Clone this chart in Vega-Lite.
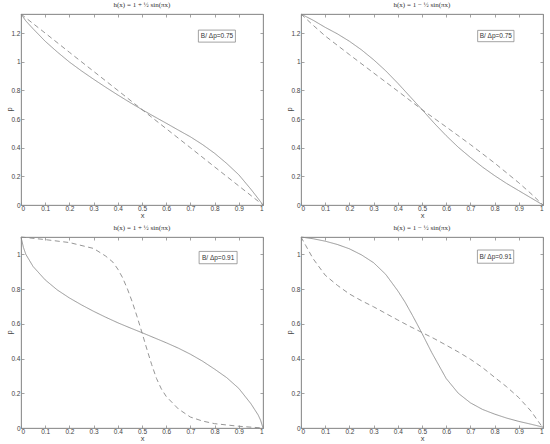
{
  "$schema": "https://vega.github.io/schema/vega-lite/v6.json",
  "padding": {"left": 4, "top": 0, "right": 4, "bottom": 0},
  "background": "white",
  "datasets": {
    "tl": [
      {"x": 0, "p": 1.333, "s": "solid"}, {"x": 0.02, "p": 1.285, "s": "solid"}, {"x": 0.05, "p": 1.23, "s": "solid"},
      {"x": 0.1, "p": 1.143, "s": "solid"}, {"x": 0.15, "p": 1.068, "s": "solid"}, {"x": 0.2, "p": 0.998, "s": "solid"},
      {"x": 0.25, "p": 0.936, "s": "solid"}, {"x": 0.3, "p": 0.878, "s": "solid"}, {"x": 0.35, "p": 0.822, "s": "solid"},
      {"x": 0.4, "p": 0.768, "s": "solid"}, {"x": 0.45, "p": 0.716, "s": "solid"}, {"x": 0.5, "p": 0.666, "s": "solid"},
      {"x": 0.55, "p": 0.618, "s": "solid"}, {"x": 0.6, "p": 0.571, "s": "solid"}, {"x": 0.65, "p": 0.523, "s": "solid"},
      {"x": 0.7, "p": 0.476, "s": "solid"}, {"x": 0.75, "p": 0.422, "s": "solid"}, {"x": 0.8, "p": 0.361, "s": "solid"},
      {"x": 0.85, "p": 0.29, "s": "solid"}, {"x": 0.9, "p": 0.211, "s": "solid"}, {"x": 0.95, "p": 0.11, "s": "solid"},
      {"x": 0.98, "p": 0.045, "s": "solid"}, {"x": 1, "p": 0, "s": "solid"},
      {"x": 0, "p": 1.333, "s": "dashed"}, {"x": 0.1, "p": 1.2, "s": "dashed"}, {"x": 0.2, "p": 1.066, "s": "dashed"},
      {"x": 0.3, "p": 0.933, "s": "dashed"}, {"x": 0.4, "p": 0.8, "s": "dashed"}, {"x": 0.5, "p": 0.666, "s": "dashed"},
      {"x": 0.6, "p": 0.533, "s": "dashed"}, {"x": 0.7, "p": 0.4, "s": "dashed"}, {"x": 0.8, "p": 0.266, "s": "dashed"},
      {"x": 0.9, "p": 0.133, "s": "dashed"}, {"x": 1, "p": 0, "s": "dashed"}
    ],
    "tr": [
      {"x": 0, "p": 1.333, "s": "solid"}, {"x": 0.05, "p": 1.29, "s": "solid"}, {"x": 0.1, "p": 1.24, "s": "solid"},
      {"x": 0.15, "p": 1.195, "s": "solid"}, {"x": 0.2, "p": 1.143, "s": "solid"}, {"x": 0.25, "p": 1.083, "s": "solid"},
      {"x": 0.3, "p": 1.014, "s": "solid"}, {"x": 0.35, "p": 0.937, "s": "solid"}, {"x": 0.4, "p": 0.85, "s": "solid"},
      {"x": 0.45, "p": 0.758, "s": "solid"}, {"x": 0.5, "p": 0.666, "s": "solid"}, {"x": 0.55, "p": 0.572, "s": "solid"},
      {"x": 0.6, "p": 0.484, "s": "solid"}, {"x": 0.65, "p": 0.403, "s": "solid"}, {"x": 0.7, "p": 0.332, "s": "solid"},
      {"x": 0.75, "p": 0.265, "s": "solid"}, {"x": 0.8, "p": 0.205, "s": "solid"}, {"x": 0.85, "p": 0.15, "s": "solid"},
      {"x": 0.9, "p": 0.1, "s": "solid"}, {"x": 0.95, "p": 0.05, "s": "solid"}, {"x": 1, "p": 0, "s": "solid"},
      {"x": 0, "p": 1.333, "s": "dashed"}, {"x": 0.05, "p": 1.255, "s": "dashed"}, {"x": 0.1, "p": 1.18, "s": "dashed"},
      {"x": 0.2, "p": 1.05, "s": "dashed"}, {"x": 0.3, "p": 0.922, "s": "dashed"}, {"x": 0.4, "p": 0.795, "s": "dashed"},
      {"x": 0.5, "p": 0.666, "s": "dashed"}, {"x": 0.6, "p": 0.545, "s": "dashed"}, {"x": 0.7, "p": 0.422, "s": "dashed"},
      {"x": 0.8, "p": 0.293, "s": "dashed"}, {"x": 0.9, "p": 0.155, "s": "dashed"}, {"x": 0.95, "p": 0.08, "s": "dashed"},
      {"x": 1, "p": 0, "s": "dashed"}
    ],
    "bl": [
      {"x": 0, "p": 1.1, "s": "solid"}, {"x": 0.01, "p": 1.04, "s": "solid"}, {"x": 0.02, "p": 1.0, "s": "solid"},
      {"x": 0.05, "p": 0.93, "s": "solid"}, {"x": 0.1, "p": 0.853, "s": "solid"}, {"x": 0.15, "p": 0.795, "s": "solid"},
      {"x": 0.2, "p": 0.749, "s": "solid"}, {"x": 0.25, "p": 0.709, "s": "solid"}, {"x": 0.3, "p": 0.672, "s": "solid"},
      {"x": 0.35, "p": 0.638, "s": "solid"}, {"x": 0.4, "p": 0.606, "s": "solid"}, {"x": 0.45, "p": 0.577, "s": "solid"},
      {"x": 0.5, "p": 0.549, "s": "solid"}, {"x": 0.55, "p": 0.52, "s": "solid"}, {"x": 0.6, "p": 0.491, "s": "solid"},
      {"x": 0.65, "p": 0.46, "s": "solid"}, {"x": 0.7, "p": 0.425, "s": "solid"}, {"x": 0.75, "p": 0.385, "s": "solid"},
      {"x": 0.8, "p": 0.339, "s": "solid"}, {"x": 0.85, "p": 0.29, "s": "solid"}, {"x": 0.9, "p": 0.228, "s": "solid"},
      {"x": 0.95, "p": 0.14, "s": "solid"}, {"x": 0.98, "p": 0.075, "s": "solid"}, {"x": 0.99, "p": 0.045, "s": "solid"},
      {"x": 1, "p": 0, "s": "solid"},
      {"x": 0, "p": 1.1, "s": "dashed"}, {"x": 0.1, "p": 1.085, "s": "dashed"}, {"x": 0.2, "p": 1.068, "s": "dashed"},
      {"x": 0.3, "p": 1.034, "s": "dashed"}, {"x": 0.35, "p": 0.99, "s": "dashed"}, {"x": 0.38, "p": 0.955, "s": "dashed"},
      {"x": 0.4, "p": 0.915, "s": "dashed"}, {"x": 0.42, "p": 0.865, "s": "dashed"}, {"x": 0.44, "p": 0.8, "s": "dashed"},
      {"x": 0.46, "p": 0.725, "s": "dashed"}, {"x": 0.48, "p": 0.64, "s": "dashed"}, {"x": 0.5, "p": 0.549, "s": "dashed"},
      {"x": 0.52, "p": 0.455, "s": "dashed"}, {"x": 0.54, "p": 0.365, "s": "dashed"}, {"x": 0.56, "p": 0.285, "s": "dashed"},
      {"x": 0.58, "p": 0.225, "s": "dashed"}, {"x": 0.6, "p": 0.182, "s": "dashed"}, {"x": 0.65, "p": 0.11, "s": "dashed"},
      {"x": 0.7, "p": 0.063, "s": "dashed"}, {"x": 0.75, "p": 0.04, "s": "dashed"}, {"x": 0.8, "p": 0.025, "s": "dashed"},
      {"x": 0.9, "p": 0.01, "s": "dashed"}, {"x": 1, "p": 0, "s": "dashed"}
    ],
    "br": [
      {"x": 0, "p": 1.1, "s": "solid"}, {"x": 0.05, "p": 1.09, "s": "solid"}, {"x": 0.1, "p": 1.076, "s": "solid"},
      {"x": 0.15, "p": 1.057, "s": "solid"}, {"x": 0.2, "p": 1.032, "s": "solid"}, {"x": 0.25, "p": 0.997, "s": "solid"},
      {"x": 0.3, "p": 0.952, "s": "solid"}, {"x": 0.35, "p": 0.885, "s": "solid"}, {"x": 0.4, "p": 0.79, "s": "solid"},
      {"x": 0.43, "p": 0.725, "s": "solid"}, {"x": 0.46, "p": 0.65, "s": "solid"}, {"x": 0.48, "p": 0.598, "s": "solid"},
      {"x": 0.5, "p": 0.545, "s": "solid"}, {"x": 0.52, "p": 0.49, "s": "solid"}, {"x": 0.54, "p": 0.435, "s": "solid"},
      {"x": 0.57, "p": 0.36, "s": "solid"}, {"x": 0.6, "p": 0.285, "s": "solid"}, {"x": 0.65, "p": 0.2, "s": "solid"},
      {"x": 0.7, "p": 0.145, "s": "solid"}, {"x": 0.75, "p": 0.107, "s": "solid"}, {"x": 0.8, "p": 0.08, "s": "solid"},
      {"x": 0.85, "p": 0.057, "s": "solid"}, {"x": 0.9, "p": 0.038, "s": "solid"}, {"x": 0.95, "p": 0.022, "s": "solid"},
      {"x": 1, "p": 0.005, "s": "solid"},
      {"x": 0, "p": 1.1, "s": "dashed"}, {"x": 0.02, "p": 1.05, "s": "dashed"}, {"x": 0.05, "p": 0.975, "s": "dashed"},
      {"x": 0.1, "p": 0.88, "s": "dashed"}, {"x": 0.15, "p": 0.822, "s": "dashed"}, {"x": 0.2, "p": 0.772, "s": "dashed"},
      {"x": 0.25, "p": 0.733, "s": "dashed"}, {"x": 0.3, "p": 0.698, "s": "dashed"}, {"x": 0.35, "p": 0.66, "s": "dashed"},
      {"x": 0.4, "p": 0.622, "s": "dashed"}, {"x": 0.45, "p": 0.585, "s": "dashed"}, {"x": 0.5, "p": 0.55, "s": "dashed"},
      {"x": 0.55, "p": 0.515, "s": "dashed"}, {"x": 0.6, "p": 0.477, "s": "dashed"}, {"x": 0.65, "p": 0.438, "s": "dashed"},
      {"x": 0.7, "p": 0.396, "s": "dashed"}, {"x": 0.75, "p": 0.348, "s": "dashed"}, {"x": 0.8, "p": 0.292, "s": "dashed"},
      {"x": 0.85, "p": 0.237, "s": "dashed"}, {"x": 0.9, "p": 0.175, "s": "dashed"}, {"x": 0.95, "p": 0.098, "s": "dashed"},
      {"x": 1, "p": 0, "s": "dashed"}
    ]
  },
  "columns": 2,
  "spacing": {"row": 32, "column": 38},
  "bounds": "flush",
  "concat": [
    {
      "width": 242, "height": 191,
      "title": "h(x) = 1 + ½ sin(πx)",
      "data": {"name": "tl"},
      "layer": [
        {
          "mark": {"type": "line", "color": "#8a8a8a", "strokeWidth": 0.9},
          "encoding": {
            "x": {"field": "x", "type": "quantitative", "scale": {"domain": [0, 1], "nice": false}, "title": "x",
                  "axis": {"values": [0, 0.1, 0.2, 0.3, 0.4, 0.5, 0.6, 0.7, 0.8, 0.9, 1]}},
            "y": {"field": "p", "type": "quantitative", "scale": {"domain": [0, 1.3333], "nice": false}, "title": "p",
                  "axis": {"values": [0, 0.2, 0.4, 0.6, 0.8, 1, 1.2]}},
            "strokeDash": {"field": "s", "type": "nominal", "scale": {"domain": ["solid", "dashed"], "range": [[1, 0], [5, 3.5]]}, "legend": null}
          }
        },
        {
          "mark": {"type": "line", "opacity": 0},
          "encoding": {
            "x": {"field": "x", "type": "quantitative", "axis": {"orient": "top", "labels": false, "title": null, "values": [0, 0.1, 0.2, 0.3, 0.4, 0.5, 0.6, 0.7, 0.8, 0.9, 1]}},
            "y": {"field": "p", "type": "quantitative", "axis": {"orient": "right", "labels": false, "title": null, "values": [0, 0.2, 0.4, 0.6, 0.8, 1, 1.2]}}
          }
        },
        {
          "data": {"values": [{"label": "B/ Δp=0.75"}]},
          "layer": [
            {
              "mark": {"type": "rect", "fill": "white", "stroke": "#8c8c8c", "strokeWidth": 0.8},
              "encoding": {
                "x": {"datum": 0.733, "type": "quantitative", "axis": null}, "x2": {"datum": 0.886},
                "y": {"datum": 1.221, "type": "quantitative", "axis": null}, "y2": {"datum": 1.137}
              }
            },
            {
              "mark": {"type": "text", "fontSize": 6.5, "color": "#333333", "font": "Liberation Sans"},
              "encoding": {
                "x": {"datum": 0.81, "type": "quantitative", "axis": null},
                "y": {"datum": 1.179, "type": "quantitative", "axis": null},
                "text": {"field": "label"}
              }
            }
          ]
        }
      ],
      "resolve": {"axis": {"x": "independent", "y": "independent"}}
    },
    {
      "width": 242, "height": 191,
      "title": "h(x) = 1 − ½ sin(πx)",
      "data": {"name": "tr"},
      "layer": [
        {
          "mark": {"type": "line", "color": "#8a8a8a", "strokeWidth": 0.9},
          "encoding": {
            "x": {"field": "x", "type": "quantitative", "scale": {"domain": [0, 1], "nice": false}, "title": "x",
                  "axis": {"values": [0, 0.1, 0.2, 0.3, 0.4, 0.5, 0.6, 0.7, 0.8, 0.9, 1]}},
            "y": {"field": "p", "type": "quantitative", "scale": {"domain": [0, 1.3333], "nice": false}, "title": "p",
                  "axis": {"values": [0, 0.2, 0.4, 0.6, 0.8, 1, 1.2]}},
            "strokeDash": {"field": "s", "type": "nominal", "scale": {"domain": ["solid", "dashed"], "range": [[1, 0], [5, 3.5]]}, "legend": null}
          }
        },
        {
          "mark": {"type": "line", "opacity": 0},
          "encoding": {
            "x": {"field": "x", "type": "quantitative", "axis": {"orient": "top", "labels": false, "title": null, "values": [0, 0.1, 0.2, 0.3, 0.4, 0.5, 0.6, 0.7, 0.8, 0.9, 1]}},
            "y": {"field": "p", "type": "quantitative", "axis": {"orient": "right", "labels": false, "title": null, "values": [0, 0.2, 0.4, 0.6, 0.8, 1, 1.2]}}
          }
        },
        {
          "data": {"values": [{"label": "B/ Δp=0.75"}]},
          "layer": [
            {
              "mark": {"type": "rect", "fill": "white", "stroke": "#8c8c8c", "strokeWidth": 0.8},
              "encoding": {
                "x": {"datum": 0.73, "type": "quantitative", "axis": null}, "x2": {"datum": 0.88},
                "y": {"datum": 1.219, "type": "quantitative", "axis": null}, "y2": {"datum": 1.14}
              }
            },
            {
              "mark": {"type": "text", "fontSize": 6.5, "color": "#333333", "font": "Liberation Sans"},
              "encoding": {
                "x": {"datum": 0.805, "type": "quantitative", "axis": null},
                "y": {"datum": 1.179, "type": "quantitative", "axis": null},
                "text": {"field": "label"}
              }
            }
          ]
        }
      ],
      "resolve": {"axis": {"x": "independent", "y": "independent"}}
    },
    {
      "width": 242, "height": 191,
      "title": "h(x) = 1 + ½ sin(πx)",
      "data": {"name": "bl"},
      "layer": [
        {
          "mark": {"type": "line", "color": "#8a8a8a", "strokeWidth": 0.9},
          "encoding": {
            "x": {"field": "x", "type": "quantitative", "scale": {"domain": [0, 1], "nice": false}, "title": "x",
                  "axis": {"values": [0, 0.1, 0.2, 0.3, 0.4, 0.5, 0.6, 0.7, 0.8, 0.9, 1]}},
            "y": {"field": "p", "type": "quantitative", "scale": {"domain": [0, 1.1], "nice": false}, "title": "p",
                  "axis": {"values": [0, 0.2, 0.4, 0.6, 0.8, 1]}},
            "strokeDash": {"field": "s", "type": "nominal", "scale": {"domain": ["solid", "dashed"], "range": [[1, 0], [5, 3.5]]}, "legend": null}
          }
        },
        {
          "mark": {"type": "line", "opacity": 0},
          "encoding": {
            "x": {"field": "x", "type": "quantitative", "axis": {"orient": "top", "labels": false, "title": null, "values": [0, 0.1, 0.2, 0.3, 0.4, 0.5, 0.6, 0.7, 0.8, 0.9, 1]}},
            "y": {"field": "p", "type": "quantitative", "axis": {"orient": "right", "labels": false, "title": null, "values": [0, 0.2, 0.4, 0.6, 0.8, 1]}}
          }
        },
        {
          "data": {"values": [{"label": "B/ Δp=0.91"}]},
          "layer": [
            {
              "mark": {"type": "rect", "fill": "white", "stroke": "#8c8c8c", "strokeWidth": 0.8},
              "encoding": {
                "x": {"datum": 0.736, "type": "quantitative", "axis": null}, "x2": {"datum": 0.893},
                "y": {"datum": 1.017, "type": "quantitative", "axis": null}, "y2": {"datum": 0.946}
              }
            },
            {
              "mark": {"type": "text", "fontSize": 6.5, "color": "#333333", "font": "Liberation Sans"},
              "encoding": {
                "x": {"datum": 0.8145, "type": "quantitative", "axis": null},
                "y": {"datum": 0.981, "type": "quantitative", "axis": null},
                "text": {"field": "label"}
              }
            }
          ]
        }
      ],
      "resolve": {"axis": {"x": "independent", "y": "independent"}}
    },
    {
      "width": 242, "height": 191,
      "title": "h(x) = 1 − ½ sin(πx)",
      "data": {"name": "br"},
      "layer": [
        {
          "mark": {"type": "line", "color": "#8a8a8a", "strokeWidth": 0.9},
          "encoding": {
            "x": {"field": "x", "type": "quantitative", "scale": {"domain": [0, 1], "nice": false}, "title": "x",
                  "axis": {"values": [0, 0.1, 0.2, 0.3, 0.4, 0.5, 0.6, 0.7, 0.8, 0.9, 1]}},
            "y": {"field": "p", "type": "quantitative", "scale": {"domain": [0, 1.1], "nice": false}, "title": "p",
                  "axis": {"values": [0, 0.2, 0.4, 0.6, 0.8, 1]}},
            "strokeDash": {"field": "s", "type": "nominal", "scale": {"domain": ["solid", "dashed"], "range": [[1, 0], [5, 3.5]]}, "legend": null}
          }
        },
        {
          "mark": {"type": "line", "opacity": 0},
          "encoding": {
            "x": {"field": "x", "type": "quantitative", "axis": {"orient": "top", "labels": false, "title": null, "values": [0, 0.1, 0.2, 0.3, 0.4, 0.5, 0.6, 0.7, 0.8, 0.9, 1]}},
            "y": {"field": "p", "type": "quantitative", "axis": {"orient": "right", "labels": false, "title": null, "values": [0, 0.2, 0.4, 0.6, 0.8, 1]}}
          }
        },
        {
          "data": {"values": [{"label": "B/ Δp=0.91"}]},
          "layer": [
            {
              "mark": {"type": "rect", "fill": "white", "stroke": "#8c8c8c", "strokeWidth": 0.8},
              "encoding": {
                "x": {"datum": 0.729, "type": "quantitative", "axis": null}, "x2": {"datum": 0.879},
                "y": {"datum": 1.025, "type": "quantitative", "axis": null}, "y2": {"datum": 0.949}
              }
            },
            {
              "mark": {"type": "text", "fontSize": 6.5, "color": "#333333", "font": "Liberation Sans"},
              "encoding": {
                "x": {"datum": 0.804, "type": "quantitative", "axis": null},
                "y": {"datum": 0.987, "type": "quantitative", "axis": null},
                "text": {"field": "label"}
              }
            }
          ]
        }
      ],
      "resolve": {"axis": {"x": "independent", "y": "independent"}}
    }
  ],
  "config": {
    "view": {"stroke": "#8c8c8c", "strokeWidth": 0.8},
    "title": {"font": "Liberation Serif", "fontSize": 7, "fontWeight": "normal", "color": "#333333", "offset": 4, "frame": "group"},
    "axis": {
      "grid": false,
      "domainColor": "#8c8c8c", "domainWidth": 0.8,
      "tickColor": "#8c8c8c", "tickWidth": 0.8, "tickSize": -3,
      "labelFont": "Liberation Sans", "labelFontSize": 6.5, "labelColor": "#444444", "labelPadding": 4,
      "format": "~g",
      "titleFont": "Liberation Sans", "titleFontSize": 7.5, "titleFontWeight": "normal", "titleColor": "#444444"
    },
    "axisBottom": {"labelPadding": 3.5, "titleY": 12.5, "titleBaseline": "alphabetic"},
    "axisLeft": {"titleX": -12, "titleY": 95, "titleAngle": -90, "titleBaseline": "middle", "titleAlign": "center"}
  }
}
